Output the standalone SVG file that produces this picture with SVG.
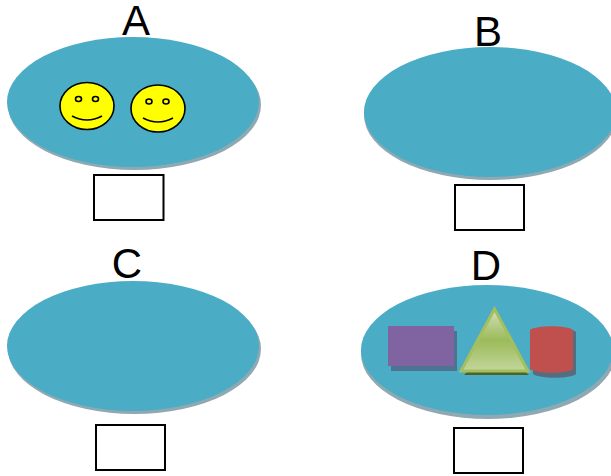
<svg xmlns="http://www.w3.org/2000/svg" width="611" height="476" viewBox="0 0 611 476">
<style>
.e{fill:#4bacc6}
.s{fill:#8fa9b3}
.b{fill:#fff;stroke:#000;stroke-width:2}
.t{font-family:"Liberation Sans",Arial,sans-serif;font-size:42px;fill:#000;text-anchor:middle}
.f{fill:#ff0;stroke:#000;stroke-width:1.6}
.y{fill:none;stroke:#000;stroke-width:1.6}
</style>
<defs>
<linearGradient id="g" x1="0" y1="0" x2="0" y2="1">
<stop offset="0" stop-color="#d4e0bc"/><stop offset=".5" stop-color="#9bbb59"/><stop offset="1" stop-color="#c3d69b"/>
</linearGradient>
</defs>
<g id="A">
<ellipse class="s" cx="134.500" cy="105" rx="126.500" ry="65"/>
<ellipse class="e" cx="133" cy="102" rx="126" ry="65"/>
<text class="t" x="136" y="35">A</text>
<rect class="b" x="94" y="175" width="69.500" height="45"/>
<g id="smile1">
<ellipse class="f" cx="87" cy="106" rx="27" ry="23.500"/>
<ellipse class="y" cx="78.500" cy="99" rx="3" ry="2.500"/>
<ellipse class="y" cx="95.500" cy="99" rx="3" ry="2.500"/>
<path class="y" d="M72 116Q87 124 102 116"/>
</g>
<g id="smile2">
<ellipse class="f" cx="158" cy="108.500" rx="27" ry="23.500"/>
<ellipse class="y" cx="149" cy="101.500" rx="3" ry="2.500"/>
<ellipse class="y" cx="166" cy="101.500" rx="3" ry="2.500"/>
<path class="y" d="M143 118Q158 126 173 118"/>
</g>
</g>
<g id="B">
<ellipse class="s" cx="490.500" cy="115" rx="126.500" ry="65"/>
<ellipse class="e" cx="490" cy="112" rx="126" ry="65"/>
<text class="t" x="488" y="46">B</text>
<rect class="b" x="455" y="185" width="69" height="45"/>
</g>
<g id="C">
<ellipse class="s" cx="134.500" cy="349" rx="126.500" ry="65"/>
<ellipse class="e" cx="133" cy="346" rx="126" ry="65"/>
<text class="t" x="127" y="278">C</text>
<rect class="b" x="96" y="425" width="69" height="45"/>
</g>
<g id="D">
<ellipse class="s" cx="488" cy="354" rx="127" ry="65"/>
<ellipse class="e" cx="487" cy="350" rx="126" ry="65"/>
<text class="t" x="486" y="280">D</text>
<rect class="b" x="454" y="428" width="69" height="45"/>
<rect x="391" y="331" width="66" height="40" fill="#4d7391"/>
<rect x="388" y="326" width="66" height="40" fill="#8064a2"/>
<path d="M464 375L529 375L524 371L468 371Z" fill="#4f6228"/>
<path d="M494.500 309L528 371L461 371Z" fill="url(#g)" stroke="#a3bf5f" stroke-width="3"/>
<path d="M533 332C540 327 570 327 576 332L576 374C570 379 540 379 533 374Z" fill="#566d80"/>
<path d="M530 330C536 325 567 325 573 330L573 369C567 374 536 374 530 369Z" fill="#c0504d"/>
</g>
</svg>
